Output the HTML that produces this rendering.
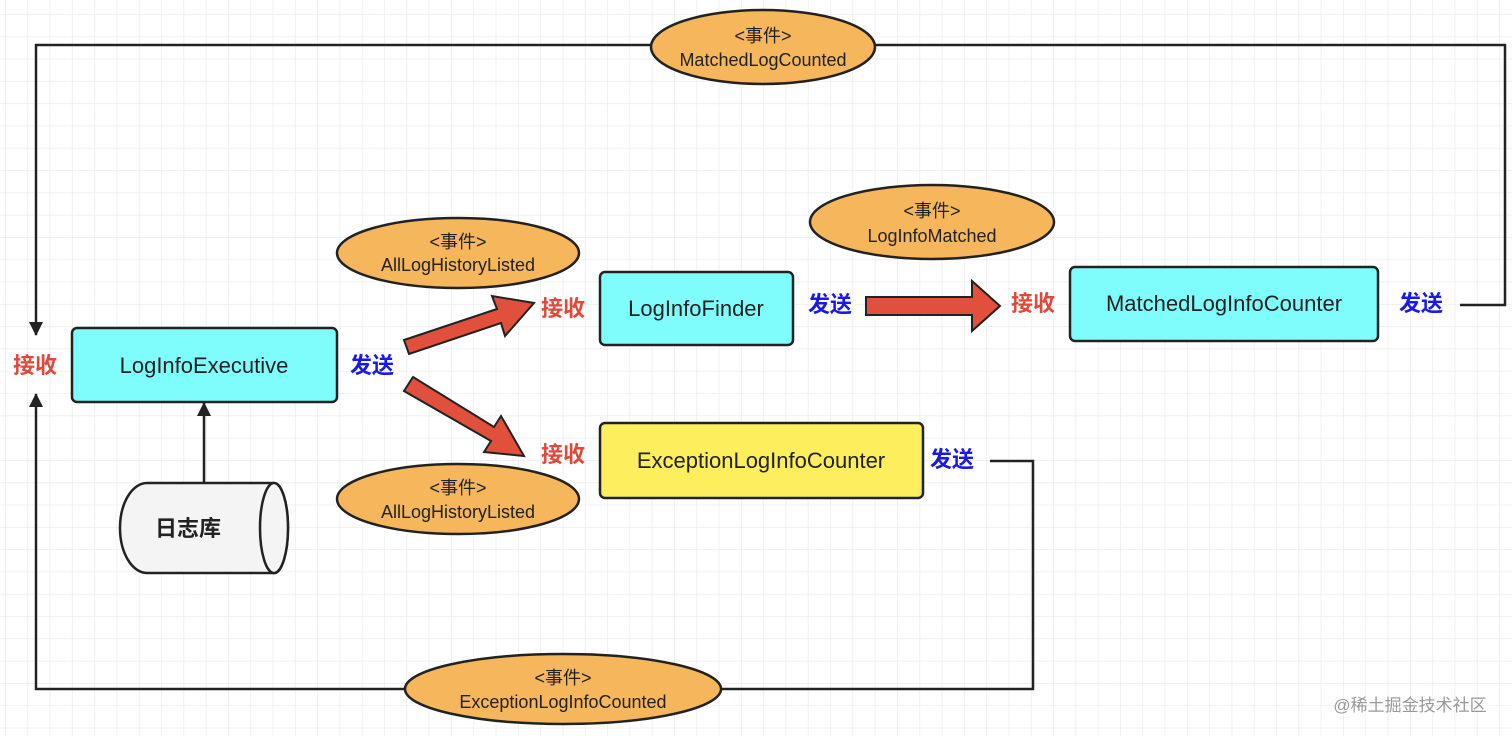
<!DOCTYPE html>
<html><head><meta charset="utf-8"><style>
html,body{margin:0;padding:0;background:#fff;}
svg{display:block;}
text{font-family:"Liberation Sans","Noto Sans CJK SC",sans-serif;}
</style></head><body>
<svg width="1512" height="736" viewBox="0 0 1512 736" xmlns="http://www.w3.org/2000/svg">
<defs>
<pattern id="g" x="5" y="14" width="22.3" height="22.3" patternUnits="userSpaceOnUse">
<path d="M0 0V22.3M0 0H22.3" stroke="#ececec" stroke-width="1.5" fill="none"/>
</pattern>
<marker id="ah" markerWidth="14" markerHeight="14" refX="13" refY="7" orient="auto" markerUnits="userSpaceOnUse">
<path d="M0 0L14 7L0 14Z" fill="#222"/>
</marker>
</defs>
<rect width="1512" height="736" fill="url(#g)"/>
<g fill="none" stroke="#222" stroke-width="2.5">
<path d="M1460 305H1505V45H36V335" marker-end="url(#ah)"/>
<path d="M990 461H1033V689H36V394" marker-end="url(#ah)"/>
<path d="M204 483V403" marker-end="url(#ah)"/>
</g>
<g fill="#f5b65c" stroke="#222" stroke-width="2.5">
<ellipse cx="763" cy="47" rx="112" ry="37"/>
<ellipse cx="458" cy="253" rx="121" ry="35"/>
<ellipse cx="458" cy="499" rx="121" ry="35"/>
<ellipse cx="932" cy="222" rx="122" ry="37"/>
<ellipse cx="563" cy="689" rx="158" ry="35"/>
</g>
<g font-size="18" fill="#222" text-anchor="middle">
<text x="763" y="42">&lt;事件&gt;</text><text x="763" y="66">MatchedLogCounted</text>
<text x="458" y="248">&lt;事件&gt;</text><text x="458" y="271">AllLogHistoryListed</text>
<text x="458" y="494">&lt;事件&gt;</text><text x="458" y="518">AllLogHistoryListed</text>
<text x="932" y="217">&lt;事件&gt;</text><text x="932" y="242">LogInfoMatched</text>
<text x="563" y="684">&lt;事件&gt;</text><text x="563" y="708">ExceptionLogInfoCounted</text>
</g>
<g stroke="#222" stroke-width="2.5">
<rect x="72" y="328" width="265" height="74" rx="5" fill="#7ffcfc"/>
<rect x="600" y="272" width="193" height="73" rx="5" fill="#7ffcfc"/>
<rect x="1070" y="267" width="308" height="74" rx="5" fill="#7ffcfc"/>
<rect x="600" y="423" width="323" height="75" rx="5" fill="#fcee5c"/>
</g>
<path d="M147 483H274A14 45 0 0 1 274 573H147A27 45 0 0 1 147 483Z" fill="#f4f4f4" stroke="#222" stroke-width="2.5"/>
<ellipse cx="274" cy="528" rx="14" ry="45" fill="#f4f4f4" stroke="#222" stroke-width="2.5"/>
<g font-size="22" fill="#222" text-anchor="middle">
<text x="204" y="367" dominant-baseline="middle">LogInfoExecutive</text>
<text x="696" y="310" dominant-baseline="middle">LogInfoFinder</text>
<text x="1224" y="305" dominant-baseline="middle">MatchedLogInfoCounter</text>
<text x="761" y="462" dominant-baseline="middle">ExceptionLogInfoCounter</text>
<text x="188" y="530" dominant-baseline="middle" font-weight="bold">日志库</text>
</g>
<g fill="#e0503c" stroke="#222" stroke-width="2">
<path d="M404 340L497 309L492 296L534 303L505 336L501 323L409 354Z"/>
<path d="M413 377L494 427L501 416L524 456L484 452L491 441L404 391Z"/>
<path d="M866 297H972V281L1000 306L972 331V315H866Z"/>
</g>
<g font-size="22" font-weight="bold" text-anchor="middle" dominant-baseline="middle">
<text x="35" y="367" fill="#e0483a">接收</text>
<text x="563" y="310" fill="#e0483a">接收</text>
<text x="563" y="456" fill="#e0483a">接收</text>
<text x="1033" y="305" fill="#e0483a">接收</text>
<text x="372" y="367" fill="#1a1ae6">发送</text>
<text x="830" y="306" fill="#1a1ae6">发送</text>
<text x="1421" y="305" fill="#1a1ae6">发送</text>
<text x="952" y="461" fill="#1a1ae6">发送</text>
</g>
<text x="1410" y="711" font-size="17" fill="#999" text-anchor="middle">@稀土掘金技术社区</text>
</svg>
</body></html>
